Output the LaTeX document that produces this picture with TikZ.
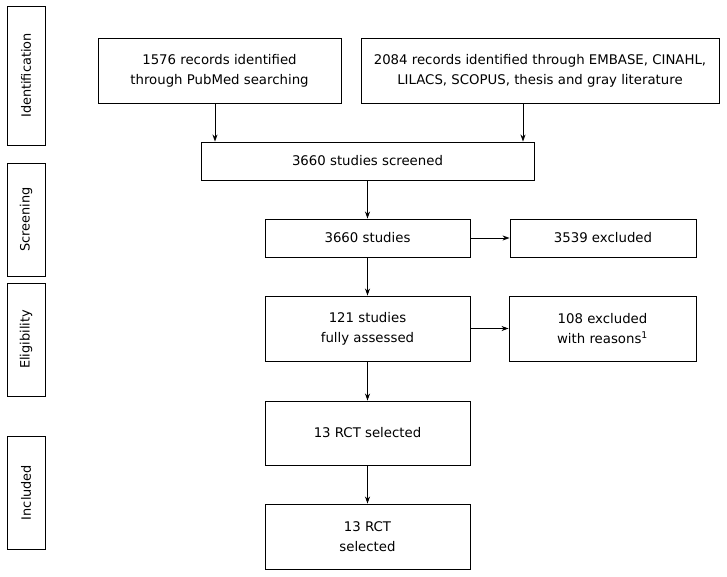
\documentclass[tikz,border=0pt]{standalone}
\usepackage{fontspec}
\setmainfont{DejaVu Sans}
\usetikzlibrary{arrows.meta}
\begin{document}
\begin{tikzpicture}[x=1pt,y=-1pt,
  box/.style={draw,line width=0.9pt,inner sep=0pt,align=center,font=\fontsize{13.3}{20}\selectfont},
  side/.style={draw,line width=0.9pt,inner sep=0pt},
  slabel/.style={rotate=90,font=\fontsize{12.9}{15}\selectfont},
  arr/.style={-{Stealth[length=7pt,width=5pt]},line width=0.8pt}]
\useasboundingbox (0,0) rectangle (727,577);
% side labels
\node[side,minimum width=38pt,minimum height=139pt] (sid) at (26,75.5) {};
\node[slabel] at (sid.center) {Identification};
\node[side,minimum width=38pt,minimum height=113pt] (ssc) at (26,219.5) {};
\node[slabel] at (ssc.center) {Screening};
\node[side,minimum width=38pt,minimum height=113pt] (sel) at (26,339.5) {};
\node[slabel] at (sel.center) {Eligibility};
\node[side,minimum width=38pt,minimum height=113pt] (sin) at (26,492.5) {};
\node[slabel] at (sin.center) {Included};
% main boxes
\node[box,minimum width=243pt,minimum height=65pt] (pub) at (219.5,70.5) {1576 records identified\\through PubMed searching};
\node[box,minimum width=358pt,minimum height=65pt] (emb) at (540,70.5) {2084 records identified through EMBASE, CINAHL,\\LILACS, SCOPUS, thesis and gray literature};
\node[box,minimum width=333pt,minimum height=38pt] (scr) at (367.5,161) {3660 studies screened};
\node[box,minimum width=205pt,minimum height=38pt] (stu) at (367.5,238) {3660 studies};
\node[box,minimum width=186pt,minimum height=38pt] (ex1) at (603,238) {3539 excluded};
\node[box,minimum width=205pt,minimum height=65pt] (ful) at (367.5,328.5) {121 studies\\fully assessed};
\node[box,minimum width=187pt,minimum height=65pt] (ex2) at (602.5,328.5) {108 excluded\\with reasons\textsuperscript{1}};
\node[box,minimum width=205pt,minimum height=64pt] (rct) at (367.5,433) {13 RCT selected};
\node[box,minimum width=205pt,minimum height=65pt] (fin) at (367.5,536.5) {13 RCT\\selected};
% arrows
\coordinate (ca) at (215,0);
\coordinate (cb) at (523,0);
\draw[arr] (ca |- pub.south) -- (ca |- scr.north);
\draw[arr] (cb |- emb.south) -- (cb |- scr.north);
\draw[arr] (scr) -- (stu);
\draw[arr] (stu) -- (ex1);
\draw[arr] (stu) -- (ful);
\draw[arr] (ful) -- (ex2);
\draw[arr] (ful) -- (rct);
\draw[arr] (rct) -- (fin);
\end{tikzpicture}
\end{document}
